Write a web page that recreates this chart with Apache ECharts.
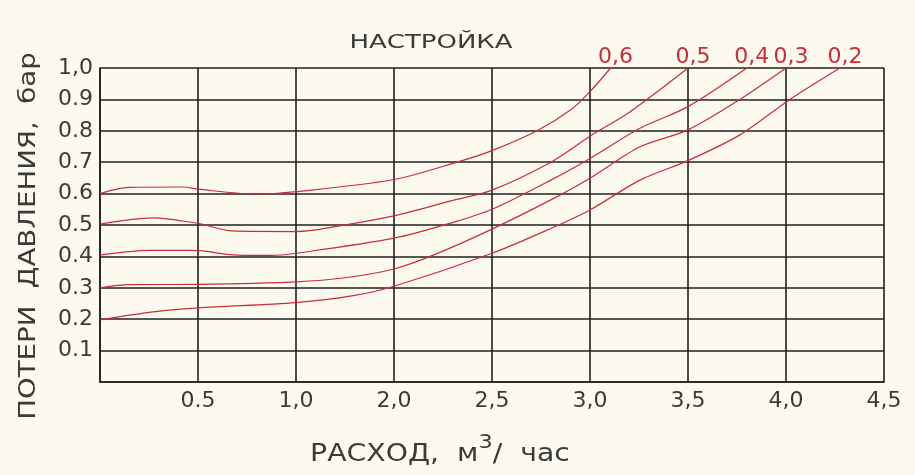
<!DOCTYPE html>
<html><head><meta charset="utf-8">
<script src="https://cdn.jsdelivr.net/npm/echarts@6/dist/echarts.min.js"></script>
<style>html,body{margin:0;padding:0;background:#fcfaef}#c{width:915px;height:475px}</style>
</head><body><div id="c"></div>
<script>
// x values are positions in grid columns (0..8), labelled by xTickLabels
const xTickLabels = ['', '0.5', '1,0', '2,0', '2,5', '3,0', '3,5', '4,0', '4,5'];
const yTickLabels = ['', '0.1', '0.2', '0.3', '0.4', '0.5', '0.6', '0.7', '0.8', '0.9', '1,0'];
const seriesNames = ['0,6', '0,5', '0,4', '0,3', '0,2'];
const curve06 = [[0,0.600],[0.29,0.620],[0.85,0.621],[1,0.614],[1.6,0.598],[2,0.606],[3,0.645],[3.62,0.698],[4,0.737],[4.46,0.800],[4.8,0.866],[5,0.925],[5.21,1.0]];
const curve05 = [[0,0.503],[0.54,0.523],[1,0.505],[1.35,0.481],[2,0.479],[2.55,0.503],[3,0.529],[3.62,0.580],[4,0.611],[4.6,0.700],[5,0.783],[5.41,0.861],[6,1.0]];
const curve04 = [[0,0.404],[0.5,0.419],[0.95,0.419],[1.4,0.404],[1.75,0.403],[2,0.410],[3,0.458],[3.62,0.510],[4,0.550],[4.6,0.643],[5,0.712],[5.51,0.808],[6,0.877],[6.6,1.0]];
const curve03 = [[0,0.300],[0.3,0.310],[1,0.311],[2,0.319],[2.5,0.332],[3,0.360],[3.4,0.404],[4,0.487],[4.6,0.580],[5,0.649],[5.51,0.749],[6,0.803],[6.53,0.900],[7,1.0]];
const curve02 = [[0,0.198],[0.5,0.222],[1,0.236],[2,0.253],[2.57,0.274],[3,0.305],[4,0.410],[4.6,0.489],[5,0.548],[5.51,0.643],[6,0.705],[6.53,0.787],[7.04,0.900],[7.55,1.0]];
const curves = [curve06, curve05, curve04, curve03, curve02];

const red = '#cc2b3b';
const ink = '#202020';
const txt = '#3a3a3a';
const chart = echarts.init(document.getElementById('c'));
const font = 'DejaVu Sans';
chart.setOption({
  backgroundColor: '#fcfaef',
  animation: false,
  grid: {left: 100, right: 31, top: 68, bottom: 93},
  xAxis: {type: 'value', min: 0, max: 8, interval: 1,
    axisLine: {show: true, lineStyle: {color: ink, width: 1.6}},
    axisTick: {show: false},
    splitLine: {show: true, lineStyle: {color: ink, width: 1.6}},
    axisLabel: {fontFamily: font, fontSize: 22, color: txt, margin: 8, showMinLabel: true, showMaxLabel: true,
      formatter: v => xTickLabels[Math.round(v)] || ''}},
  yAxis: {type: 'value', min: 0, max: 1, interval: 0.1,
    axisLine: {show: true, lineStyle: {color: ink, width: 1.6}},
    axisTick: {show: false},
    splitLine: {show: true, lineStyle: {color: ink, width: 1.6}},
    axisLabel: {fontFamily: font, fontSize: 22, color: txt, margin: 7,
      formatter: v => yTickLabels[Math.round(v * 10)] || ''}},
  graphic: [
    {type: 'text', x: 431, y: 43, scaleX: 1.3,
      style: {text: 'НАСТРОЙКА', font: '20px "DejaVu Sans"', fill: txt, align: 'center', verticalAlign: 'middle'}},
    {type: 'text', x: 29, y: 236, rotation: Math.PI / 2, scaleX: 1.2,
      style: {text: 'ПОТЕРИ  ДАВЛЕНИЯ,  бар', font: '23px "DejaVu Sans"', fill: txt, align: 'center', verticalAlign: 'middle'}},
    {type: 'text', x: 440, y: 450, scaleX: 1.18,
      style: {text: '{b|РАСХОД,  м}{s|3}{b|/  час}', align: 'center', verticalAlign: 'middle', fill: txt,
        rich: {b: {fontFamily: font, fontSize: 24, color: txt, verticalAlign: 'bottom'},
               s: {fontFamily: font, fontSize: 19, color: txt, verticalAlign: 'top', padding: [0, 0, 14, 0]}}}}
  ],
  series: curves.map((c, i) => ({
    type: 'line', name: seriesNames[i], smooth: 0.3,
    showSymbol: true, symbol: 'circle', symbolSize: 0.1,
    lineStyle: {color: red, width: 1.2},
    itemStyle: {color: red},
    data: c.map((p, k) => k === c.length - 1
      ? {value: p, label: {show: true, position: 'top', distance: 0, offset: [5, 0], formatter: seriesNames[i],
          fontFamily: font, fontSize: 22, color: red}}
      : p)
  }))
});
</script></body></html>
